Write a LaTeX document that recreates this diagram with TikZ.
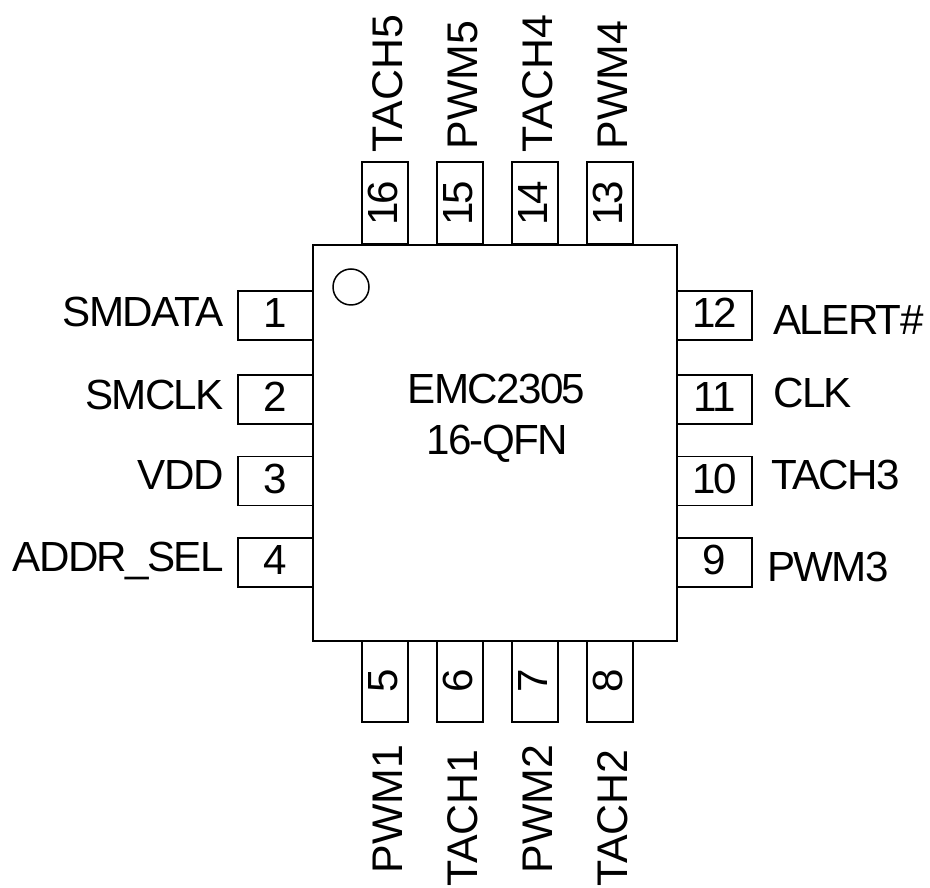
\documentclass[tikz,border=0pt]{standalone}
\usepackage{fontspec}
\setmainfont{Liberation Sans}
\newfontfamily\tightfont[LetterSpace=-4]{Liberation Sans}
\tikzset{
    pinside/.style={draw=black,line width=0.38mm,inner sep=0pt,text depth=0.1cm,minimum width=1.5cm,minimum height=0.98cm,font=\fontsize{24}{29}\tightfont},
    pinvert/.style={pinside,rotate=90,minimum width=1.64cm,minimum height=0.92cm},
    pinname/.style={inner sep=0pt,font=\fontsize{24}{29}\tightfont},
    pinnamevert/.style={inner sep=0pt,rotate=90,anchor=base west,font=\fontsize{24.4}{29}\selectfont},
}
\begin{document}
\begin{tikzpicture}[x=0.02cm,y=-0.02cm]
        \useasboundingbox (0,0) rectangle (930,888);
        %LEFT PINS
        \foreach \n/\y/\t/\b in {1/315.5/SMDATA/327,2/399.7/SMCLK/410,3/481/VDD/490,4/562.2/ADDR\_SEL/571}{
            \node[pinside] (pin\n) at (275.5,\y) {\n};
            \node[pinname,anchor=base east] (name\n) at (224,\b) {\t};
        }
        %RIGHT PINS
        \foreach \n/\y/\t/\b/\l in {12/315.5/ALERT\#/335/773,11/399.7/CLK/408/773,10/481/TACH3/490/771,9/562.2/PWM3/582/767}{
            \node[pinside] (pin\n) at (714.7,\y) {\n};
            \node[pinname,anchor=base west] (name\n) at (\l,\b) {\t};
        }
        %TOP PINS
        \foreach \n/\x/\t/\b in {16/385/TACH5/152.5,15/460.2/PWM5/149.5,14/535/TACH4/152.5,13/610/PWM4/149.5}{
            \node[pinvert] (pin\n) at (\x,203.2) {\n};
            \node[pinnamevert] (name\n) at (\x+17,\b) {\t};
        }
        %BOTTOM PINS
        \foreach \n/\x/\t/\b in {5/385/PWM1/873.5,6/460.2/TACH1/887,7/535/PWM2/873.5,8/610/TACH2/887}{
            \node[pinvert] (pin\n) at (\x,681) {\n};
            \node[pinnamevert] (name\n) at (\x+17,\b) {\t};
        }
        %BODY
        \node[draw=black,line width=0.38mm,fill=white,inner sep=0pt,minimum width=7.28cm,minimum height=7.92cm] (chip) at (495.3,442.6) {};
        \node[draw=black,line width=0.3mm,circle,inner sep=0pt,minimum size=0.72cm] (dot) at (351,287) {};
        \node[pinname,anchor=base] (part) at (496.5,404) {EMC2305};
        \node[pinname,anchor=base] (package) at (497,455) {16-QFN};
\end{tikzpicture}
\end{document}
